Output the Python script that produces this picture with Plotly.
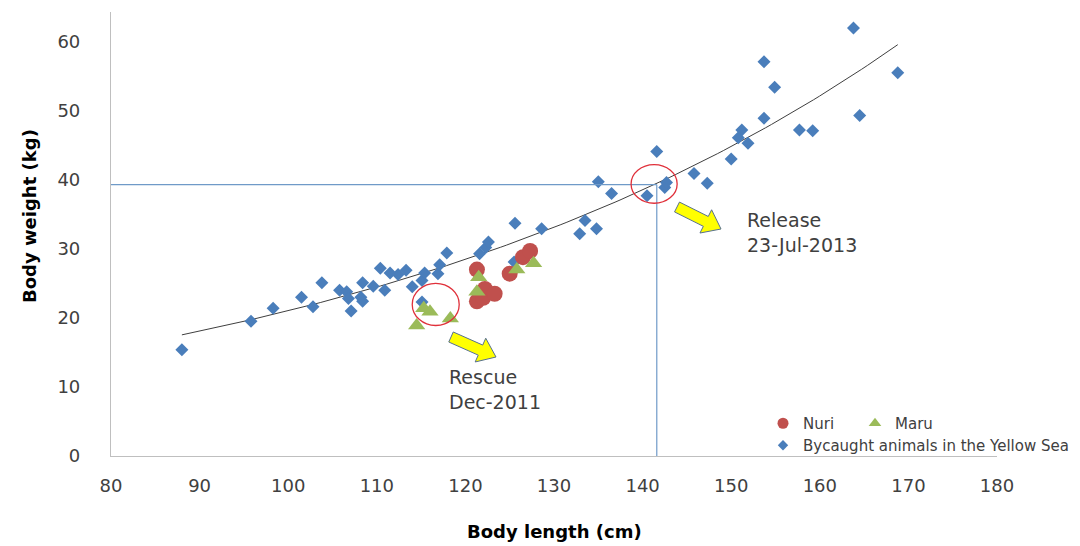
import numpy as np
import plotly.graph_objects as go

# ---------------- data ----------------
bycaught_len = [88.0, 95.8, 98.3, 101.5, 102.8, 103.8, 105.8, 106.6, 106.8, 107.1,
                108.4, 108.2, 108.4, 109.6, 110.4, 110.9, 111.5, 112.4, 113.3, 114.0,
                115.1, 115.4, 115.1, 116.9, 117.1, 117.9, 121.6, 122.3, 122.6, 125.5,
                125.6, 128.6, 132.9, 133.5, 134.8, 135.0, 136.5, 140.5, 141.6, 142.5,
                142.7, 145.8, 147.3, 150.0, 150.8, 151.2, 151.9, 153.7, 153.7, 154.9,
                157.7, 159.2, 163.8, 164.5, 168.8]
bycaught_wt = [15.4, 19.5, 21.4, 23.0, 21.6, 25.1, 24.0, 23.8, 22.8, 21.0,
               25.1, 23.0, 22.4, 24.6, 27.2, 24.0, 26.5, 26.3, 26.9, 24.5,
               25.4, 26.5, 22.3, 26.4, 27.7, 29.4, 29.3, 30.2, 31.0, 28.1,
               33.7, 32.9, 32.2, 34.1, 32.9, 39.7, 38.0, 37.7, 44.1, 38.9,
               39.6, 40.9, 39.5, 43.0, 46.1, 47.2, 45.3, 48.9, 57.1, 53.4,
               47.2, 47.1, 62.0, 49.3, 55.5]

nuri_len = [121.3, 121.3, 122.0, 122.2, 123.3, 125.0, 126.5, 127.3]
nuri_wt = [27.0, 22.4, 22.9, 24.2, 23.5, 26.4, 28.8, 29.7]

maru_len = [114.5, 115.3, 116.0, 118.3, 121.3, 121.5, 125.8, 127.7]
maru_wt = [18.9, 21.4, 20.9, 19.9, 23.8, 25.9, 27.0, 27.9]

x_ticks = [80, 90, 100, 110, 120, 130, 140, 150, 160, 170, 180]
y_ticks = [0, 10, 20, 30, 40, 50, 60]

release_len = 141.6
release_wt = 39.3

# ---------------- layout constants ----------------
W, H = 1080, 546
ML, MR, MT, MB = 111, 83, 12, 90
X_RANGE = [80, 180]
Y_RANGE = [0, 64.3]

BLUE = "#4A7EBB"
RED = "#C0504D"
GREEN = "#9BBB59"
TXT = "#404040"
FONT = "DejaVu Sans"

# exponential trendline (least squares on ln y, as a spreadsheet trendline)
b, a = np.polyfit(np.array(bycaught_len), np.log(np.array(bycaught_wt)), 1)
trend_x = np.linspace(min(bycaught_len), max(bycaught_len), 120)
trend_y = np.exp(a) * np.exp(b * trend_x)

fig = go.Figure()

fig.add_trace(go.Scatter(x=trend_x, y=trend_y, mode="lines",
                         line=dict(color="#3F3F3F", width=1),
                         showlegend=False, hoverinfo="skip"))

fig.add_trace(go.Scatter(x=bycaught_len, y=bycaught_wt, mode="markers",
                         name="Bycaught animals in the Yellow Sea",
                         marker=dict(symbol="diamond", size=10, color=BLUE),
                         showlegend=False))
fig.add_trace(go.Scatter(x=nuri_len, y=nuri_wt, mode="markers", name="Nuri",
                         marker=dict(symbol="circle", size=16, color=RED),
                         showlegend=False))
fig.add_trace(go.Scatter(x=maru_len, y=maru_wt, mode="markers", name="Maru",
                         marker=dict(symbol="triangle-up", size=15, color=GREEN),
                         showlegend=False))

# legend entries (smaller legend symbols)
fig.add_trace(go.Scatter(x=[None], y=[None], mode="markers", name="Nuri",
                         marker=dict(symbol="circle", size=11, color=RED),
                         legend="legend"))
fig.add_trace(go.Scatter(x=[None], y=[None], mode="markers", name="Maru",
                         marker=dict(symbol="triangle-up", size=11, color=GREEN),
                         legend="legend"))
fig.add_trace(go.Scatter(x=[None], y=[None], mode="markers",
                         name="Bycaught animals in the Yellow Sea",
                         marker=dict(symbol="diamond", size=8, color=BLUE),
                         legend="legend2"))

# reference lines at release
fig.add_shape(type="line", xref="x", yref="y", x0=X_RANGE[0], x1=release_len,
              y0=release_wt, y1=release_wt, line=dict(color="#6F9AC8", width=1.2))
fig.add_shape(type="line", xref="x", yref="y", x0=release_len, x1=release_len,
              y0=0, y1=release_wt, line=dict(color="#6F9AC8", width=1.2))

# highlight circles
fig.add_shape(type="circle", xref="x", yref="y", x0=114.0, x1=119.3, y0=18.9, y1=25.0,
              line=dict(color="#E0303A", width=1.3))
fig.add_shape(type="circle", xref="x", yref="y", x0=138.7, x1=143.9, y0=36.6, y1=42.2,
              line=dict(color="#E0303A", width=1.3))


# block arrows (figure pixel coordinates converted to paper)
def px2paper(px, py):
    return (px - ML) / (W - ML - MR), 1 - (py - MT) / (H - MT - MB)


def block_arrow(tail, tip, sw=11, hw=26, hl=17):
    t = np.array(tail, float)
    p = np.array(tip, float)
    d = p - t
    u = d / np.linalg.norm(d)
    n = np.array([-u[1], u[0]])
    neck = p - u * hl
    pts = [t + n * sw / 2, neck + n * sw / 2, neck + n * hw / 2, p,
           neck - n * hw / 2, neck - n * sw / 2, t - n * sw / 2]
    path = ""
    for i, q in enumerate(pts):
        xx, yy = px2paper(q[0], q[1])
        path += ("M" if i == 0 else "L") + f"{xx:.5f},{yy:.5f} "
    return path + "Z"


for tail, tip in [((451, 337), (496, 357)), ((677, 207), (721, 229))]:
    fig.add_shape(type="path", xref="paper", yref="paper", path=block_arrow(tail, tip),
                  fillcolor="#FFFF00", line=dict(color="#56708F", width=1))

# text annotations
fig.add_annotation(text="Rescue<br>Dec-2011", xref="paper", yref="paper",
                   x=px2paper(447, 0)[0], y=px2paper(0, 364)[1],
                   xanchor="left", yanchor="top", align="left", showarrow=False,
                   font=dict(family=FONT, size=19, color=TXT))
fig.add_annotation(text="Release<br>23-Jul-2013", xref="paper", yref="paper",
                   x=px2paper(745, 0)[0], y=px2paper(0, 207)[1],
                   xanchor="left", yanchor="top", align="left", showarrow=False,
                   font=dict(family=FONT, size=19, color=TXT))

# axis titles
fig.add_annotation(text="<b>Body length (cm)</b>", xref="paper", yref="paper",
                   x=0.5, y=px2paper(0, 531)[1], xanchor="center", yanchor="middle",
                   showarrow=False, font=dict(family=FONT, size=18, color="#000000"))
fig.add_annotation(text="<b>Body weight (kg)</b>", xref="paper", yref="paper",
                   x=px2paper(29, 0)[0], y=px2paper(0, 216)[1], textangle=-90,
                   xanchor="center", yanchor="middle",
                   showarrow=False, font=dict(family=FONT, size=18, color="#000000"))

fig.update_layout(
    width=W, height=H,
    margin=dict(l=ML, r=MR, t=MT, b=MB, autoexpand=False),
    paper_bgcolor="white", plot_bgcolor="white",
    font=dict(family=FONT, color=TXT),
    xaxis=dict(range=X_RANGE, tickvals=x_ticks, showgrid=False, zeroline=False,
               showline=True, linecolor="#BFBFBF", linewidth=1.2, ticks="",
               ticklabelstandoff=13, tickfont=dict(family=FONT, size=18, color=TXT),
               automargin=False),
    yaxis=dict(range=Y_RANGE, tickvals=y_ticks, showgrid=False, zeroline=False,
               showline=True, linecolor="#BFBFBF", linewidth=1.2, ticks="",
               ticklabelstandoff=26, tickfont=dict(family=FONT, size=18, color=TXT),
               automargin=False),
    legend=dict(orientation="h", xref="container", yref="container",
                x=763 / W, y=1 - 407 / H, xanchor="left", yanchor="top",
                bgcolor="rgba(0,0,0,0)", font=dict(family=FONT, size=15, color=TXT),
                entrywidth=47, entrywidthmode="pixels", tracegroupgap=0),
    legend2=dict(orientation="h", xref="container", yref="container",
                 x=763 / W, y=1 - 429 / H, xanchor="left", yanchor="top",
                 bgcolor="rgba(0,0,0,0)", font=dict(family=FONT, size=15, color=TXT)),
    showlegend=True,
)

fig.write_html("out.html")
